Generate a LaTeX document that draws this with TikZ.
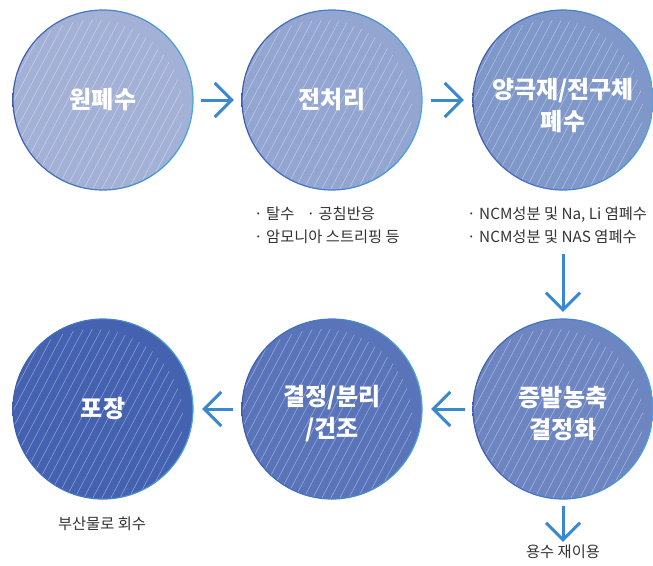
\documentclass[tikz,border=0pt]{standalone}
\usepackage{fontspec}
\setmainfont{Noto Sans CJK KR}
\usetikzlibrary{arrows.meta,calc}
\definecolor{cA}{HTML}{A3B1D6}
\definecolor{cB}{HTML}{93A5D1}
\definecolor{cC}{HTML}{8097C9}
\definecolor{cD}{HTML}{6D85C1}
\definecolor{cE}{HTML}{5A74BA}
\definecolor{cF}{HTML}{4562B0}
\definecolor{ringL}{HTML}{3F5BB0}
\definecolor{ringR}{HTML}{4AA6DE}
\definecolor{arrc}{HTML}{3A88CF}
\definecolor{txt}{HTML}{333333}
\tikzset{
  bub/.style={circle, minimum size=180pt, inner sep=0pt, draw=none},
  lab/.style={text=white, font=\bfseries\fontsize{24}{32}\selectfont, align=center},
  note/.style={text=txt, font=\fontsize{15.3}{23}\selectfont, align=left, inner sep=0pt},
  arr/.style={line width=3pt, draw=arrc, -{Straight Barb[length=17pt,width=34pt]}},
}
\newcommand{\bubble}[6]{%
  \node[bub, fill=#4] (#1) at (#2,#3) {};
  \begin{scope}
    \clip (#1.center) circle[radius=90pt];
    \clip ($(#1.center)+(-10,10)$) circle[radius=90pt];
    \begin{scope}[shift={(#1.center)}]
      \foreach \k in {-260,-251,...,260} {
        \draw[white, opacity=0.4, line width=0.55pt] (\k-53,100) -- (\k+53,-100);
      }
    \end{scope}
  \end{scope}
  \shade[left color=ringL, right color=ringR, even odd rule]
    (#1.center) circle[radius=90.6pt] (#1.center) circle[radius=89.4pt];
  \node[lab] at ($(#1.center)+(0,#6)$) {#5};
}
\begin{document}
\begin{tikzpicture}[x=1pt,y=-1pt]
\useasboundingbox[fill=white] (0,0) rectangle (653,565);
\bubble{c1}{103}{100}{cA}{원폐수}{0}
\bubble{c2}{332}{100}{cB}{전처리}{0}
\bubble{c3}{563}{100}{cC}{양극재/전구체\\폐수}{6}
\bubble{c4}{563}{409}{cD}{증발농축\\결정화}{5}
\bubble{c5}{332}{409}{cE}{결정/분리\\/건조}{5}
\bubble{c6}{103}{409}{cF}{포장}{0}

\node[note, anchor=west] (n1) at (254,225) {· 탈수\hspace{0.8em}· 공침반응\\· 암모니아 스트리핑 등};
\node[note, anchor=west] (n2) at (467,225) {· NCM성분 및 Na, Li 염폐수\\· NCM성분 및 NAS 염폐수};
\node[note] (b1) at (102,524) {부산물로 회수};
\node[note] (b2) at (563,552) {용수 재이용};

\draw[arr, shorten <=8pt, shorten >=8pt] (c1.east) -- (c2.west);
\draw[arr, shorten <=9pt, shorten >=9pt] (c2.east) -- (c3.west);
\draw[arr, shorten <=64pt, shorten >=7pt] (c3.south) -- (c4.north);
\draw[arr, shorten <=8pt, shorten >=9pt] (c4.west) -- (c5.east);
\draw[arr, shorten <=9pt, shorten >=9pt] (c5.west) -- (c6.east);
\draw[arr, shorten <=7pt, shorten >=3pt] (c4.south) -- (b2.north);
\end{tikzpicture}
\end{document}
